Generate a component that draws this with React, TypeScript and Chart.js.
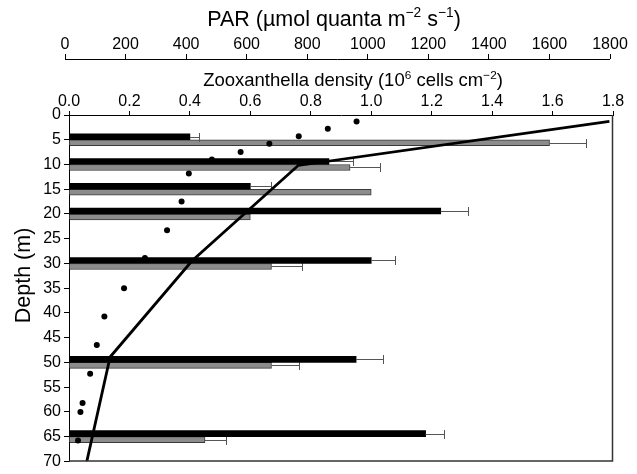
import React, { useEffect, useRef } from 'react';
import { Chart, registerables } from 'chart.js';

Chart.register(...registerables);

// ---------- data ----------
const DEPTHS = [5, 10, 15, 20, 30, 50, 65];
const DENSITY_BLACK = [0.40, 0.86, 0.60, 1.23, 1.00, 0.95, 1.18];
const DENSITY_BLACK_SE = [0.03, 0.08, 0.07, 0.09, 0.08, 0.09, 0.06];
const DENSITY_GRAY = [1.59, 0.93, 1.00, 0.60, 0.67, 0.67, 0.45];
const DENSITY_GRAY_SE = [0.12, 0.10, 0, 0, 0.10, 0.09, 0.07];

const PAR_DOT_DEPTHS = [1.3, 2.8, 4.3, 5.8, 7.5, 9.0, 11.8, 17.5, 23.3, 28.9, 35.0, 40.7, 46.5, 52.3, 58.2, 60.0, 65.8];
const PAR_DOT_VALUES = [963, 868, 772, 675, 580, 485, 409, 385, 337, 264, 195, 130, 105, 83, 58, 51, 43];

const PAR_LINE_DEPTHS = [1.3, 10.2, 29.5, 48.9, 70];
const PAR_LINE_VALUES = [1798, 770, 419, 149, 72];

const DEPTH_TICKS = [0, 5, 10, 15, 20, 25, 30, 35, 40, 45, 50, 55, 60, 65, 70];
const DENSITY_TICKS = [0, 0.2, 0.4, 0.6, 0.8, 1.0, 1.2, 1.4, 1.6, 1.8];
const PAR_TICKS = [0, 200, 400, 600, 800, 1000, 1200, 1400, 1600, 1800];

type Seg = { text: string; sup?: boolean };
const PAR_TITLE: Seg[] = [
  { text: 'PAR (µmol quanta m' }, { text: '−2', sup: true },
  { text: ' s' }, { text: '−1', sup: true }, { text: ')' },
];
const DENSITY_TITLE: Seg[] = [
  { text: 'Zooxanthella density (10' }, { text: '6', sup: true },
  { text: ' cells cm' }, { text: '−2', sup: true }, { text: ')' },
];
const DEPTH_TITLE: Seg[] = [{ text: 'Depth (m)' }];

const FAMILY = '"Liberation Sans", Arial, Helvetica, sans-serif';

function drawRich(ctx: CanvasRenderingContext2D, segs: Seg[], size: number) {
  const supSize = size * 0.64;
  let total = 0;
  const widths = segs.map((s) => {
    ctx.font = `${s.sup ? supSize : size}px ${FAMILY}`;
    const w = ctx.measureText(s.text).width;
    total += w;
    return w;
  });
  let x = -total / 2;
  segs.forEach((s, i) => {
    ctx.font = `${s.sup ? supSize : size}px ${FAMILY}`;
    ctx.fillText(s.text, x, s.sup ? -size * 0.4 : 0);
    x += widths[i];
  });
}

const titlesPlugin = {
  id: 'titles',
  afterDraw(chart: any) {
    const ctx: CanvasRenderingContext2D = chart.ctx;
    ctx.save();
    ctx.fillStyle = '#000';
    ctx.textAlign = 'left';
    ctx.textBaseline = 'alphabetic';
    ctx.save(); ctx.translate(334, 26); drawRich(ctx, PAR_TITLE, 21.5); ctx.restore();
    ctx.save(); ctx.translate(353, 86); drawRich(ctx, DENSITY_TITLE, 18.5); ctx.restore();
    ctx.save(); ctx.translate(30, 275.5); ctx.rotate(-Math.PI / 2); drawRich(ctx, DEPTH_TITLE, 21.5); ctx.restore();
    ctx.restore();
  },
};

const framePlugin = {
  id: 'frame',
  afterDraw(chart: any) {
    const ctx: CanvasRenderingContext2D = chart.ctx;
    const { left, right, top, bottom } = chart.chartArea;
    ctx.save();
    ctx.strokeStyle = '#333';
    ctx.lineWidth = 1.5;
    ctx.beginPath();
    ctx.moveTo(left, bottom - 0.5);
    ctx.lineTo(right - 0.5, bottom - 0.5);
    ctx.lineTo(right - 0.5, top);
    ctx.stroke();
    // PAR axis line
    const s = chart.scales.x2;
    const y = Math.round(s.bottom) + 0.5;
    ctx.strokeStyle = '#000';
    ctx.lineWidth = 1;
    ctx.beginPath();
    ctx.moveTo(s.getPixelForValue(PAR_TICKS[0]), y);
    ctx.lineTo(s.getPixelForValue(PAR_TICKS[PAR_TICKS.length - 1]), y);
    ctx.stroke();
    ctx.restore();
  },
};

const errorBarPlugin = {
  id: 'errorBars',
  afterDatasetDraw(chart: any, args: any) {
    const ds = chart.data.datasets[args.index];
    if (!ds.errors) return;
    const ctx: CanvasRenderingContext2D = chart.ctx;
    const xs = chart.scales.x;
    ctx.save();
    ctx.strokeStyle = '#555';
    ctx.lineWidth = 1;
    args.meta.data.forEach((bar: any, i: number) => {
      const err = ds.errors[i];
      if (!err) return;
      const v = ds.data[i].x;
      const x0 = bar.x;
      const x1 = Math.round(xs.getPixelForValue(v + err)) + 0.5;
      const y = Math.round(bar.y) + 0.5;
      ctx.beginPath();
      ctx.moveTo(x0, y);
      ctx.lineTo(x1, y);
      ctx.moveTo(x1, y - 4.5);
      ctx.lineTo(x1, y + 4.5);
      ctx.stroke();
    });
    ctx.restore();
  },
};

export default function App() {
  const ref = useRef<HTMLCanvasElement | null>(null);

  useEffect(() => {
    if (!ref.current) return;
    Chart.defaults.font.family = FAMILY;
    Chart.defaults.color = '#000';
    const tickFont = { size: 16, lineHeight: 1.2 };

    const chart = new Chart(ref.current, {
      type: 'bar',
      data: {
        datasets: [
          {
            type: 'line',
            label: 'PAR profile',
            data: PAR_LINE_DEPTHS.map((d, i) => ({ x: PAR_LINE_VALUES[i], y: d })),
            xAxisID: 'x2',
            yAxisID: 'y',
            borderColor: '#000',
            borderWidth: 2.8,
            pointRadius: 0,
            tension: 0,
            fill: false,
            order: 0,
          } as any,
          {
            type: 'scatter',
            label: 'PAR',
            data: PAR_DOT_DEPTHS.map((d, i) => ({ x: PAR_DOT_VALUES[i], y: d })),
            xAxisID: 'x2',
            yAxisID: 'y',
            backgroundColor: '#000',
            borderWidth: 0,
            pointRadius: 3,
            showLine: false,
            order: 1,
          } as any,
          {
            type: 'bar',
            label: 'Density A',
            indexAxis: 'y',
            data: DEPTHS.map((d, i) => ({ x: DENSITY_BLACK[i], y: d })),
            errors: DENSITY_BLACK_SE,
            xAxisID: 'x',
            yAxisID: 'y',
            backgroundColor: '#000',
            borderWidth: 0,
            barThickness: 6,
            order: 2,
          } as any,
          {
            type: 'bar',
            label: 'Density B',
            indexAxis: 'y',
            data: DEPTHS.map((d, i) => ({ x: DENSITY_GRAY[i], y: d })),
            errors: DENSITY_GRAY_SE,
            xAxisID: 'x',
            yAxisID: 'y',
            backgroundColor: '#8c8c8c',
            borderColor: '#3a3a3a',
            borderWidth: 1,
            barThickness: 6,
            order: 3,
          } as any,
        ],
      },
      options: {
        animation: false,
        responsive: false,
        events: [],
        layout: { padding: { top: 0, left: 0, right: 24, bottom: 8 } },
        plugins: { legend: { display: false }, tooltip: { enabled: false }, title: { display: false } },
        scales: {
          x: {
            type: 'linear',
            position: 'top',
            weight: 0,
            min: 0,
            max: 1.8,
            offset: false,
            afterBuildTicks: (s: any) => { s.ticks = DENSITY_TICKS.map((v) => ({ value: v })); },
            afterFit: (s: any) => { s.height = 56; },
            ticks: { autoSkip: false, maxRotation: 0, padding: 0, font: tickFont, color: '#000', callback: (v: any) => Number(v).toFixed(1) },
            grid: { offset: false, drawOnChartArea: false, drawTicks: true, tickLength: 4, color: '#000' },
            border: { display: true, color: '#000', width: 1 },
            title: { display: false },
          },
          x2: {
            type: 'linear',
            axis: 'x',
            position: 'top',
            weight: 1,
            min: 13.2,
            max: 1809.9,
            offset: false,
            afterBuildTicks: (s: any) => { s.ticks = PAR_TICKS.map((v) => ({ value: v })); },
            afterFit: (s: any) => { s.height = 59; },
            ticks: { autoSkip: false, maxRotation: 0, padding: 0, font: tickFont, color: '#000', callback: (v: any) => String(v) },
            grid: { offset: false, drawOnChartArea: false, drawTicks: true, tickLength: 5, color: '#000' },
            border: { display: false },
            title: { display: false },
          },
          y: {
            type: 'linear',
            position: 'left',
            reverse: true,
            min: 0,
            max: 70,
            offset: false,
            afterBuildTicks: (s: any) => { s.ticks = DEPTH_TICKS.map((v) => ({ value: v })); },
            afterFit: (s: any) => { s.width = 69; },
            ticks: { autoSkip: false, padding: 3, font: tickFont, color: '#000' },
            grid: { offset: false, drawOnChartArea: false, drawTicks: true, tickLength: 5, color: '#000' },
            border: { display: true, color: '#000', width: 1 },
            title: { display: false },
          },
        },
      } as any,
      plugins: [errorBarPlugin, framePlugin, titlesPlugin],
    });
    return () => chart.destroy();
  }, []);

  return (
    <div style={{ position: 'absolute', left: 0, top: 0, width: 637, height: 474, background: '#fff' }}>
      <canvas ref={ref} width={637} height={474} style={{ display: 'block' }} />
    </div>
  );
}
